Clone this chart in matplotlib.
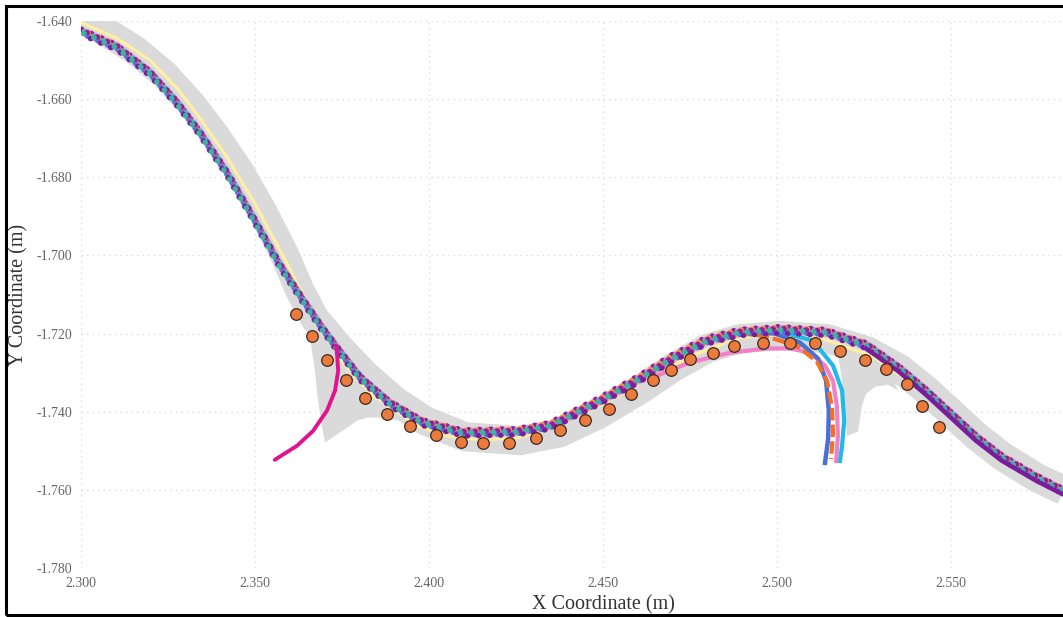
import numpy as np
import matplotlib.pyplot as plt
import matplotlib.transforms as mtransforms
from matplotlib.patches import Polygon, Rectangle

# road centre line (m)
road_x = [2.2940, 2.3055, 2.3155, 2.3241, 2.3319, 2.3385, 2.3457, 2.3523, 2.3586, 2.3629,
          2.3672, 2.3739, 2.3816, 2.3902, 2.3989, 2.4103, 2.4261, 2.4376, 2.4491, 2.4606,
          2.4701, 2.4799, 2.4894, 2.5009, 2.5144, 2.5259, 2.5353, 2.5431, 2.5497, 2.5575,
          2.5649, 2.5747, 2.5856]
road_y = [-1.6359, -1.6418, -1.6474, -1.6538, -1.6615, -1.6692, -1.6787, -1.6890, -1.7000, -1.7090,
          -1.7162, -1.7233, -1.7305, -1.7372, -1.7423, -1.7464, -1.7474, -1.7454, -1.7405, -1.7344,
          -1.7287, -1.7238, -1.7213, -1.7205, -1.7213, -1.7244, -1.7290, -1.7346, -1.7400, -1.7464,
          -1.7515, -1.7569, -1.7615]

# side road stubs
stub_a_x = [2.3658, 2.3672, 2.3681, 2.3693, 2.3701, 2.3773, 2.3793, 2.3822, 2.3859, 2.3917, 2.3902, 2.3744]
stub_a_y = [-1.7210, -1.7295, -1.7372, -1.7441, -1.7479, -1.7436, -1.7423, -1.7415, -1.7415, -1.7423, -1.7359, -1.7231]
stub_b_x = [2.5167, 2.5181, 2.5190, 2.5195, 2.5201, 2.5233, 2.5244, 2.5256, 2.5282, 2.5319, 2.5348, 2.5296]
stub_b_y = [-1.7231, -1.7282, -1.7346, -1.7397, -1.7462, -1.7451, -1.7385, -1.7354, -1.7336, -1.7331, -1.7346, -1.7244]

# main bundle of trajectories
traj_x = [2.3003, 2.3103, 2.3198, 2.3276, 2.3342, 2.3420, 2.3494, 2.3572, 2.3638, 2.3687,
          2.3736, 2.3802, 2.3888, 2.3983, 2.4098, 2.4253, 2.4348, 2.4491, 2.4606, 2.4701,
          2.4799, 2.4894, 2.5009, 2.5144, 2.5259, 2.5353, 2.5431, 2.5497, 2.5575, 2.5649,
          2.5747, 2.5822]
traj_y = [-1.6428, -1.6467, -1.6533, -1.6610, -1.6687, -1.6790, -1.6903, -1.7026, -1.7115, -1.7179,
          -1.7238, -1.7313, -1.7379, -1.7428, -1.7454, -1.7451, -1.7436, -1.7372, -1.7315, -1.7262,
          -1.7218, -1.7197, -1.7190, -1.7197, -1.7231, -1.7290, -1.7349, -1.7403, -1.7467, -1.7518,
          -1.7569, -1.7603]

# reference lane line (yellow)
yellow_x = [2.3003, 2.3103, 2.3198, 2.3276, 2.3342, 2.3420, 2.3494, 2.3580, 2.3644, 2.3701,
            2.3759, 2.3839, 2.3917, 2.3966, 2.4060, 2.4155, 2.4253, 2.4348, 2.4491, 2.4606,
            2.4750, 2.4894, 2.5009, 2.5132, 2.5276, 2.5402, 2.5497, 2.5575, 2.5649, 2.5747, 2.5822]
yellow_y = [-1.6405, -1.6444, -1.6500, -1.6572, -1.6649, -1.6749, -1.6859, -1.7000, -1.7110, -1.7200,
            -1.7282, -1.7359, -1.7405, -1.7436, -1.7464, -1.7472, -1.7467, -1.7444, -1.7385, -1.7326,
            -1.7259, -1.7210, -1.7203, -1.7213, -1.7259, -1.7336, -1.7397, -1.7459, -1.7513, -1.7567, -1.7600]

# turning trajectories
magenta_x = [2.3733, 2.3736, 2.3739, 2.3730, 2.3707, 2.3667, 2.3621, 2.3557]
magenta_y = [-1.7231, -1.7256, -1.7295, -1.7346, -1.7397, -1.7449, -1.7487, -1.7523]
turn_orange_x = [2.4894, 2.4971, 2.5057, 2.5115, 2.5144, 2.5158, 2.5161, 2.5155]
turn_orange_y = [-1.7197, -1.7208, -1.7231, -1.7272, -1.7321, -1.7390, -1.7456, -1.7521]
turn_blue_x = [2.4894, 2.4994, 2.5066, 2.5118, 2.5141, 2.5149, 2.5147, 2.5138]
turn_blue_y = [-1.7195, -1.7200, -1.7223, -1.7264, -1.7321, -1.7397, -1.7469, -1.7531]
turn_cyan_x = [2.5009, 2.5103, 2.5161, 2.5187, 2.5193, 2.5187, 2.5181]
turn_cyan_y = [-1.7195, -1.7218, -1.7282, -1.7346, -1.7423, -1.7487, -1.7526]
turn_pink_x = [2.4635, 2.4750, 2.4865, 2.4971, 2.5037, 2.5095, 2.5138, 2.5161, 2.5172, 2.5175, 2.5170]
turn_pink_y = [-1.7315, -1.7274, -1.7249, -1.7238, -1.7238, -1.7249, -1.7282, -1.7321, -1.7385, -1.7462, -1.7526]

# measured points (orange circles)
point_x = [2.3618, 2.3664, 2.3707, 2.3761, 2.3816, 2.3879, 2.3945, 2.4020, 2.4092, 2.4155,
           2.4230, 2.4307, 2.4376, 2.4448, 2.4517, 2.4580, 2.4644, 2.4695, 2.4750, 2.4816,
           2.4876, 2.4960, 2.5037, 2.5109, 2.5181, 2.5253, 2.5313, 2.5374, 2.5417, 2.5466]
point_y = [-1.7151, -1.7205, -1.7267, -1.7318, -1.7364, -1.7405, -1.7436, -1.7459, -1.7477, -1.7479,
           -1.7479, -1.7467, -1.7446, -1.7421, -1.7392, -1.7354, -1.7318, -1.7292, -1.7264, -1.7249,
           -1.7233, -1.7223, -1.7223, -1.7223, -1.7244, -1.7267, -1.7290, -1.7328, -1.7385, -1.7438]

x_ticks = [2.300, 2.350, 2.400, 2.450, 2.500, 2.550]
y_ticks = [-1.780, -1.760, -1.740, -1.720, -1.700, -1.680, -1.660, -1.640]

plt.rcParams['font.family'] = ['Liberation Serif', 'DejaVu Serif']

fig = plt.figure(figsize=(10.63, 6.17), dpi=100)
ax = fig.add_axes([81 / 1063, 49 / 617, 1044 / 1063, 547 / 617])
ax.set_xlim(2.300, 2.600)
ax.set_ylim(-1.780, -1.640)

# road surface
road_col = '#dadada'
ax.plot(road_x, road_y, color=road_col, lw=21, solid_capstyle='butt', solid_joinstyle='round', zorder=1)
ax.add_patch(Polygon(np.column_stack([stub_a_x, stub_a_y]), closed=True, fc=road_col, ec='none', zorder=1))
ax.add_patch(Polygon(np.column_stack([stub_b_x, stub_b_y]), closed=True, fc=road_col, ec='none', zorder=1))

ax.plot(yellow_x, yellow_y, color='#fff0a0', lw=2.2, zorder=2)


def shifted(dx, dy):
    return mtransforms.offset_copy(ax.transData, fig=fig, x=dx, y=dy, units='points')


# soft underlay of the bundle
for col, off in [('#f487c0', (0.8, -2.0)), ('#4f76d9', (-0.6, 1.2)), ('#35c4c4', (0.3, 0.0)),
                 ('#5ccf80', (-0.2, -0.9)), ('#c79ae8', (0.9, 1.9))]:
    ax.plot(traj_x, traj_y, color=col, lw=2.6, alpha=0.7, transform=shifted(*off), zorder=3)

# dotted trajectories in the bundle
bundle = [('#8e1fa0', (-0.8, 2.2)), ('#f37b2a', (0.7, -0.6)), ('#4dbf7a', (-0.5, 0.5)),
          ('#4f76d9', (0.4, -1.5)), ('#f47eb9', (-0.3, 1.3)), ('#2fc3c9', (0.8, 0.3)),
          ('#a66fe0', (-0.8, -1.2)), ('#7b1c9a', (0.3, -2.3)), ('#f7943f', (-0.2, 1.8)),
          ('#8e1fa0', (0.5, 0.9)), ('#3bb3a0', (-0.6, -0.2))]
for i, (col, off) in enumerate(bundle):
    ax.plot(traj_x, traj_y, color=col, lw=3.8, ls=(i * 0.37, (0.1, 2.0)),
            dash_capstyle='round', transform=shifted(*off), zorder=4 + i * 0.01)

# darker purple tail on the right
ax.plot(traj_x[-8:], traj_y[-8:], color='#7b1c9a', lw=3.2, transform=shifted(-0.9, -2.0), zorder=4.2)

# turning movements
ax.plot(turn_pink_x, turn_pink_y, color='#f080c8', lw=3.0, zorder=3.5)
ax.plot(turn_blue_x, turn_blue_y, color='#4a6fd8', lw=3.2, zorder=3.6)
ax.plot(turn_orange_x, turn_orange_y, color='#f36f22', lw=3.0, ls=(0, (3, 1)), zorder=3.7)
ax.plot(turn_cyan_x, turn_cyan_y, color='#22b8e8', lw=3.0, zorder=3.6)
ax.plot(magenta_x, magenta_y, color='#e0148c', lw=2.8, solid_capstyle='round', zorder=5)

ax.scatter(point_x, point_y, s=70, color='#ec7a3c', edgecolors='#3a2a22', linewidths=0.9, zorder=6)

ax.set_xticks(x_ticks)
ax.set_xticklabels([f'{v:.3f}' for v in x_ticks])
ax.set_yticks(y_ticks)
ax.set_yticklabels([f'{v:.3f}' for v in y_ticks])
ax.tick_params(length=0, labelsize=10, labelcolor='#666666', pad=6.5)
ax.grid(True, color='#dddddd', lw=1.0, ls=(0, (1, 3)))
ax.set_axisbelow(True)
for s in ax.spines.values():
    s.set_visible(False)

ax.set_xlabel('X Coordinate (m)', fontsize=14.5, color='#333333', va='top')
ax.xaxis.set_label_coords(0.5, -0.049)
ax.set_ylabel('Y Coordinate (m)', fontsize=14.5, color='#333333', va='center', ha='center')
ax.yaxis.set_label_coords(-0.060, 0.5)

fig.add_artist(Rectangle((6 / 1063, 2 / 617), 1.2, 609 / 617, transform=fig.transFigure,
                         fill=False, lw=2.2, ec='black'))

fig.savefig('out.png', dpi=100)
